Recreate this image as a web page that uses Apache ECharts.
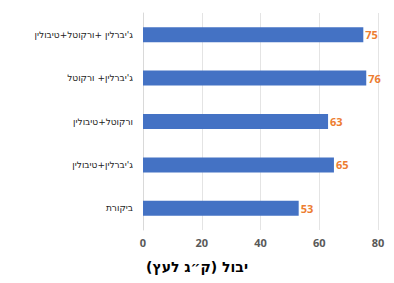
<!DOCTYPE html>
<html>
<head>
<meta charset="utf-8">
<script src="https://cdn.jsdelivr.net/npm/echarts@6/dist/echarts.min.js"></script>
<style>
  html, body { margin: 0; padding: 0; background: #fff; }
  #chart { width: 394px; height: 283px; }
</style>
</head>
<body>
<div id="chart"></div>
<script>
// קטגוריות מלמטה למעלה
const categories = ['ביקורת', 'ג\'יברלין+טיבולין', 'ורקוטל+טיבולין', 'ג\'יברלין+ ורקוטל', 'ג\'יברלין +ורקוטל+טיבולין']
const yieldValues = [53, 65, 63, 76, 75]
const xTicks = [0, 20, 40, 60, 80]

// svg כדי שהדפדפן יסדר את הטקסט העברי מימין לשמאל
const chart = echarts.init(document.getElementById('chart'), null, { renderer: 'svg' })

const option = {
  animation: false,
  grid: {
    left: 143,
    right: 16,
    top: 13,
    bottom: 53
  },
  title: {
    // RLM בסוף כדי שהסוגריים יישארו במקום
    text: 'יבול (ק״ג לעץ)\u200F',
    left: 'center',
    bottom: 4,
    textStyle: {
      fontFamily: 'DejaVu Sans',
      fontSize: 14,
      fontWeight: 'bold',
      color: '#000'
    }
  },
  xAxis: {
    type: 'value',
    min: xTicks[0],
    max: xTicks[xTicks.length - 1],
    interval: 20,
    axisLine: { show: false },
    axisTick: { show: false },
    splitLine: { lineStyle: { color: '#e4e4e4' } },
    axisLabel: {
      color: '#595959',
      fontWeight: 'bold',
      fontSize: 11,
      fontFamily: 'Open Sans',
      margin: 7
    }
  },
  yAxis: {
    type: 'category',
    data: categories,
    axisLine: { lineStyle: { color: '#d9d9d9' } },
    axisTick: { show: false },
    axisLabel: {
      color: '#222',
      fontSize: 9,
      fontFamily: 'DejaVu Sans',
      margin: 10
    }
  },
  series: [
    {
      type: 'bar',
      data: yieldValues,
      barWidth: 15,
      itemStyle: { color: '#4472c4' },
      label: {
        show: true,
        position: 'right',
        distance: 2,
        color: '#ed7d31',
        fontWeight: 'bold',
        fontSize: 11,
        fontFamily: 'Open Sans'
      }
    }
  ]
}

chart.setOption(option)
</script>
</body>
</html>
